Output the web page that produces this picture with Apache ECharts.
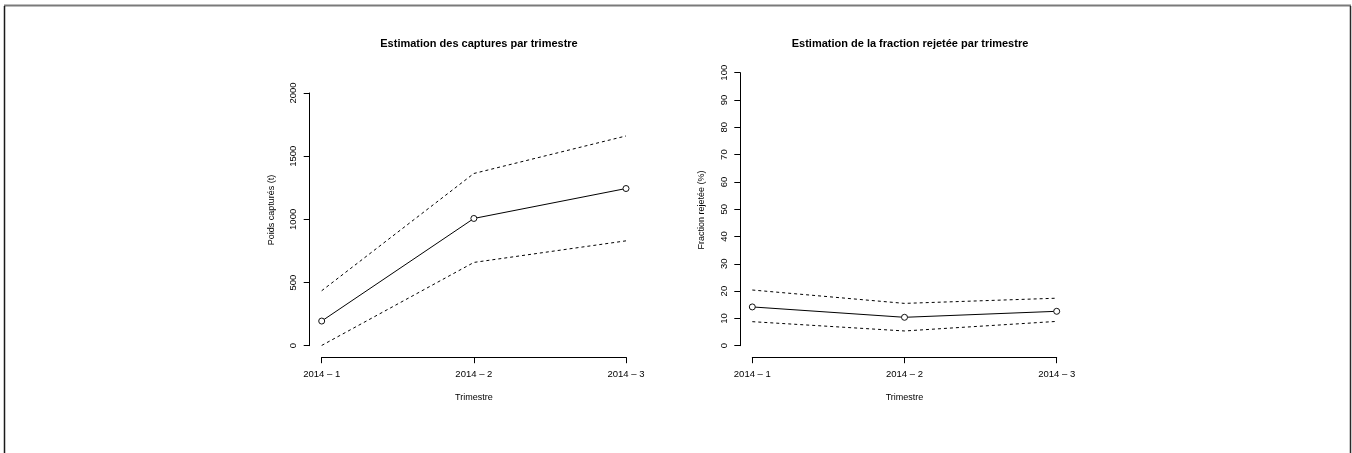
<!DOCTYPE html>
<html>
<head>
<meta charset="utf-8">
<script src="https://cdn.jsdelivr.net/npm/echarts@6/dist/echarts.min.js"></script>
<style>
  html, body { margin: 0; padding: 0; background: #fff; }
  #chart { width: 1352px; height: 453px; }
</style>
</head>
<body>
<div id="chart"></div>
<script>
// Quarterly estimates with their confidence bounds
const trimestres = ['2014 – 1', '2014 – 2', '2014 – 3'];

// Catch weight (t)
const capturesEstim = [195, 1007, 1244];
const capturesHaut = [435, 1363, 1660];
const capturesBas = [2, 659, 830];

// Discarded fraction (%)
const rejetEstim = [14.2, 10.4, 12.6];
const rejetHaut = [20.4, 15.5, 17.4];
const rejetBas = [8.8, 5.4, 8.9];

const FONT = '"Liberation Sans", Arial, Helvetica, sans-serif';
const INK = '#000';

function xAxisFor(gridIndex) {
  return {
    type: 'category', gridIndex, data: trimestres, boundaryGap: false,
    offset: 11.5,
    name: 'Trimestre', nameLocation: 'middle', nameGap: 36,
    nameTextStyle: { fontFamily: FONT, fontSize: 9, color: INK },
    axisLine: { onZero: false, lineStyle: { color: INK, width: 1 } },
    axisTick: { length: 6, interval: 0, lineStyle: { color: INK } },
    axisLabel: { interval: 0, margin: 12.5, fontFamily: FONT, fontSize: 9.5, color: INK },
    splitLine: { show: false }
  };
}

function yAxisFor(gridIndex, max, interval) {
  return {
    type: 'value', gridIndex, min: 0, max, interval,
    offset: 12,
    axisLine: { show: true, onZero: false, lineStyle: { color: INK, width: 1 } },
    axisTick: { show: true, length: 6, lineStyle: { color: INK } },
    axisLabel: {
      rotate: 90, margin: 11, fontFamily: FONT, fontSize: 9.5, color: INK,
      formatter: (v) => String(v)
    },
    splitLine: { show: false }
  };
}

function estimSeries(idx, data) {
  return {
    type: 'line', xAxisIndex: idx, yAxisIndex: idx, data,
    symbol: 'circle', symbolSize: 6, showSymbol: true,
    lineStyle: { color: INK, width: 1 },
    itemStyle: { color: '#fff', borderColor: '#111', borderWidth: 1 },
    z: 3
  };
}

function boundSeries(idx, data) {
  return {
    type: 'line', xAxisIndex: idx, yAxisIndex: idx, data,
    symbol: 'none',
    lineStyle: { color: INK, width: 1, type: [3, 3] },
    z: 2
  };
}

// vertical axis title, centred on the plotting region
function yTitle(text, x, y) {
  return {
    type: 'text', x, y, rotation: Math.PI / 2,
    style: {
      text, fill: INK, font: '9px ' + FONT,
      textAlign: 'center', textVerticalAlign: 'middle'
    }
  };
}

const chart = echarts.init(document.getElementById('chart'), null, { renderer: 'canvas' });
chart.setOption({
  animation: false,
  backgroundColor: '#fff',
  title: [
    {
      text: 'Estimation des captures par trimestre',
      left: 474, top: 33, textAlign: 'center',
      textStyle: { fontFamily: FONT, fontSize: 11, fontWeight: 'bold', color: INK }
    },
    {
      text: 'Estimation de la fraction rejetée par trimestre',
      left: 905, top: 33, textAlign: 'center',
      textStyle: { fontFamily: FONT, fontSize: 11, fontWeight: 'bold', color: INK }
    }
  ],
  grid: [
    { left: 321.7, top: 93, width: 304.3, height: 252.7, containLabel: false },
    { left: 752.3, top: 72.7, width: 304.4, height: 273, containLabel: false }
  ],
  xAxis: [xAxisFor(0), xAxisFor(1)],
  yAxis: [yAxisFor(0, 2000, 500), yAxisFor(1, 100, 10)],
  series: [
    boundSeries(0, capturesHaut),
    boundSeries(0, capturesBas),
    estimSeries(0, capturesEstim),
    boundSeries(1, rejetHaut),
    boundSeries(1, rejetBas),
    estimSeries(1, rejetEstim)
  ],
  graphic: [
    yTitle('Poids capturés (t)', 271.5, 210),
    yTitle('Fraction rejetée (%)', 701.5, 210),
    // window frame
    { type: 'line', shape: { x1: 4, y1: 5.5, x2: 1351, y2: 5.5 }, style: { stroke: '#7a7a7a', lineWidth: 2 } },
    { type: 'line', shape: { x1: 4.5, y1: 6, x2: 4.5, y2: 453 }, style: { stroke: '#1a1a1a', lineWidth: 1.5 } },
    { type: 'line', shape: { x1: 1350.5, y1: 6, x2: 1350.5, y2: 453 }, style: { stroke: '#2a2a2a', lineWidth: 1.5 } }
  ]
});
</script>
</body>
</html>
